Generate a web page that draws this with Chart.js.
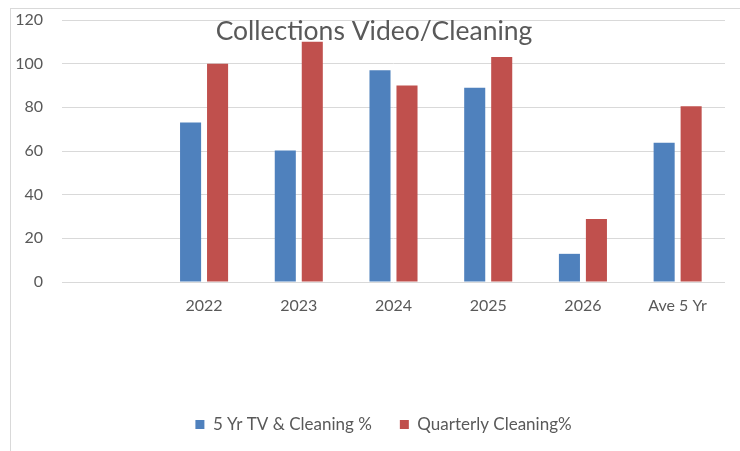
<!DOCTYPE html>
<html>
<head>
<meta charset="utf-8">
<script src="https://cdn.jsdelivr.net/npm/chart.js@4.4.0/dist/chart.umd.min.js"></script>
<style>
    body { margin: 0; background: #ffffff; }
    #wrap { position: relative; width: 740px; height: 451px; overflow: hidden; }
    #frame { position: absolute; left: 10px; top: 8px; width: 760px; height: 470px;
             border-top: 1px solid #d9d9d9; border-left: 1px solid #d9d9d9; }
    #chart { position: absolute; left: 0; top: 0; }
</style>
</head>
<body>
<div id="wrap">
    <div id="frame"></div>
    <canvas id="chart" width="740" height="451"></canvas>
</div>
<script>
// Data
const categories = ['', '2022', '2023', '2024', '2025', '2026', 'Ave 5 Yr'];
const tvCleaning = [null, 73.1, 60.2, 97, 89, 12.9, 63.8];
const quarterlyCleaning = [null, 100, 110, 90, 103, 28.8, 80.5];
const yTicks = [0, 20, 40, 60, 80, 100, 120];

const chartTitle = 'Collections Video/Cleaning';
const textColor = '#595959';
const fontFamily = 'Lato, "Open Sans", sans-serif';

// Title overlays the plot area like the Excel original
const overlayTitle = {
    id: 'overlayTitle',
    afterDraw(chart) {
        const ctx = chart.ctx;
        ctx.save();
        ctx.font = '26.5px ' + fontFamily;
        ctx.fillStyle = textColor;
        ctx.textAlign = 'center';
        ctx.textBaseline = 'alphabetic';
        ctx.fillText(chartTitle, 374, 40);
        ctx.restore();
    }
};

// Legend in the original sits a bit right of the canvas centre
const legendShift = {
    id: 'legendShift',
    afterLayout(chart) {
        const lg = chart.legend;
        if (lg) {
            lg.left += 21;
            lg.right += 21;
        }
    }
};

const ctx = document.getElementById('chart').getContext('2d');
new Chart(ctx, {
    type: 'bar',
    data: {
        labels: categories,
        datasets: [{
            label: '5 Yr TV & Cleaning %',
            data: tvCleaning,
            backgroundColor: '#4F81BD',
            barPercentage: 0.78,
            categoryPercentage: 0.57
        }, {
            label: 'Quarterly Cleaning%',
            data: quarterlyCleaning,
            backgroundColor: '#C0504D',
            barPercentage: 0.78,
            categoryPercentage: 0.57
        }]
    },
    options: {
        responsive: false,
        animation: false,
        layout: {
            padding: { left: 0, right: 15, top: 20, bottom: 8 }
        },
        plugins: {
            title: { display: false },
            tooltip: { enabled: false },
            legend: {
                position: 'bottom',
                labels: {
                    boxWidth: 9,
                    boxHeight: 9,
                    padding: 28,
                    color: textColor,
                    font: { family: fontFamily, size: 17 }
                }
            }
        },
        scales: {
            x: {
                grid: { display: false, drawTicks: false },
                border: { display: false },
                ticks: {
                    color: textColor,
                    padding: 14,
                    font: { family: fontFamily, size: 16 }
                },
                afterFit(scale) { scale.height = 106; }
            },
            y: {
                min: 0,
                max: 120,
                afterBuildTicks(scale) {
                    scale.ticks = yTicks.map(v => ({ value: v }));
                },
                grid: { color: '#d9d9d9', drawTicks: false },
                border: { display: false },
                ticks: {
                    color: textColor,
                    padding: 19,
                    font: { family: fontFamily, size: 16 }
                },
                afterFit(scale) {
                    scale.width = 62;
                    scale.paddingTop = 0;
                    scale.paddingBottom = 0;
                }
            }
        }
    },
    plugins: [overlayTitle, legendShift]
});
</script>
</body>
</html>
